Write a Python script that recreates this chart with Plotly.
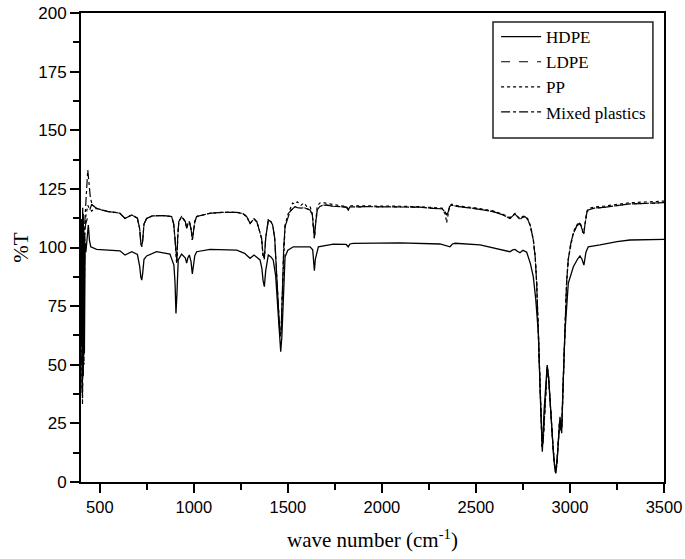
import plotly.graph_objects as go

# ---------------- data ----------------
hdpe_wavenumber = [
    400, 403, 406, 409, 412, 415, 418, 422, 426, 432,
    439, 445, 452, 483, 545, 607, 634, 650, 670, 700,
    712, 718, 723, 728, 735, 749, 802, 873, 894, 900,
    905, 910, 917, 935, 955, 962, 968, 976, 985, 992,
    998, 1005, 1015, 1086, 1228, 1270, 1299, 1320, 1352, 1362,
    1368, 1375, 1382, 1396, 1410, 1422, 1435, 1445, 1455, 1462,
    1468, 1475, 1485, 1500, 1529, 1618, 1632, 1637, 1641, 1646,
    1662, 1742, 1810, 1821, 1830, 1848, 2096, 2309, 2350, 2362,
    2375, 2389, 2522, 2628, 2681, 2695, 2708, 2722, 2734, 2750,
    2770, 2790, 2805, 2818, 2832, 2843, 2853, 2862, 2872, 2879,
    2887, 2902, 2914, 2924, 2934, 2947, 2952, 2956, 2962, 2973,
    2991, 3018, 3040, 3053, 3064, 3074, 3085, 3097, 3160, 3250,
    3319, 3420, 3500,
]
hdpe_t = [
    60, 112, 38, 117, 45, 108, 55, 102, 98, 104,
    109.6, 103, 100.3, 99.2, 98.9, 98.6, 96.8, 97.5, 98.2, 97,
    92, 87.5, 86.1, 89, 95, 96.4, 98.2, 97.2, 92.5, 85,
    71.9, 80, 94.7, 97.2, 95.5, 93.3, 95.5, 96.8, 94, 88.7,
    92, 96.5, 98.2, 99.2, 98.9, 97.5, 95.4, 96.8, 94.7, 91,
    86, 83.3, 90, 96.8, 96, 94.7, 88, 75, 60, 55.6,
    62, 80, 96.1, 98.8, 100.3, 100.3, 99, 94, 90.1, 95,
    100.3, 101.4, 101.3, 100.3, 101.5, 101.8, 102, 101.5, 100.6, 100.3,
    101.5, 101.8, 101.1, 99.2, 98.2, 99, 99.2, 98.3, 97.8, 98.8,
    98, 93, 87.5, 78, 63.4, 35, 12.9, 30, 45, 49.9,
    44, 25, 10, 3.7, 12, 27.8, 23, 20.8, 38, 63.4,
    84.7, 91.8, 95, 96.4, 95, 92.5, 98, 100.3, 101.1, 102.5,
    103.2, 103.4, 103.5,
]

upper_wavenumber = [
    400, 404, 408, 412, 416, 420, 425, 430, 436, 442,
    450, 457, 470, 483, 510, 545, 580, 607, 634, 650,
    670, 700, 712, 718, 723, 728, 735, 749, 780, 838,
    882, 893, 900, 906, 910, 914, 920, 935, 955, 962,
    968, 976, 985, 992, 998, 1005, 1015, 1050, 1086, 1150,
    1228, 1260, 1281, 1299, 1320, 1335, 1343, 1360, 1368, 1375,
    1382, 1396, 1410, 1419, 1430, 1440, 1450, 1458, 1464, 1470,
    1478, 1485, 1500, 1511, 1525, 1538, 1550, 1570, 1585, 1600,
    1618, 1630, 1637, 1641, 1645, 1656, 1670, 1688, 1706, 1740,
    1777, 1810, 1821, 1830, 1919, 2000, 2096, 2200, 2273, 2320,
    2338, 2344, 2352, 2360, 2371, 2400, 2486, 2550, 2592, 2640,
    2681, 2700, 2708, 2722, 2734, 2750, 2761, 2775, 2790, 2805,
    2815, 2823, 2832, 2840, 2847, 2852, 2858, 2865, 2872, 2879,
    2885, 2893, 2902, 2910, 2918, 2924, 2930, 2938, 2945, 2951,
    2957, 2963, 2973, 2982, 2991, 3005, 3018, 3035, 3050, 3060,
    3068, 3074, 3080, 3090, 3097, 3130, 3177, 3250, 3319, 3400,
    3500,
]
ldpe_t = [
    50, 110, 35, 113, 60, 108, 110, 112, 113, 115,
    117, 118.5, 117.3, 116.7, 116, 115.3, 115, 114.6, 112.4, 113,
    113.9, 112.5, 108, 102, 100.3, 103, 110, 112.4, 113.5, 113.6,
    113.2, 110, 104, 96, 94, 104, 111, 113.2, 111, 108.2,
    110, 111, 108, 103.2, 106, 111, 113.2, 114, 114.6, 115,
    115, 114.5, 113.2, 110.3, 112.2, 111, 108.9, 104, 97, 95.4,
    104, 111.7, 111, 109.6, 104, 90, 72, 62, 64, 80,
    100, 108.9, 113, 115.3, 116.5, 117.4, 117, 116.8, 117, 116.5,
    116, 114, 106, 103.9, 108, 116, 117.5, 118.1, 118.1, 117.6,
    117.4, 117.2, 116, 117.3, 117.4, 117.4, 117.4, 117.2, 116.7, 116.5,
    115, 113.9, 115, 117.5, 118.1, 117.5, 116.7, 116, 115.3, 114,
    112.4, 113.8, 114.3, 113, 112, 113, 113.2, 112, 109, 103.2,
    96, 84.7, 64, 45, 25, 15, 18, 30, 42, 49,
    46, 35, 25, 15, 7, 4, 7, 16, 26, 22,
    24, 40, 64, 85, 95, 102, 106, 109, 110.3, 109,
    106.5, 106, 110, 115, 116, 116.8, 117.1, 117.8, 118.6, 118.8,
    119.1,
]
pp_t = [
    40, 108, 33, 110, 50, 105, 113, 116, 118, 117,
    116, 115.5, 116.5, 116.7, 116, 115.3, 115, 114.6, 112.4, 113,
    113.9, 112.5, 108, 102, 100.3, 103, 110, 112.4, 113.5, 113.6,
    113.2, 110, 104, 95, 93, 104, 111, 113.2, 111, 108.2,
    110, 111, 108, 103.2, 106, 111, 113.2, 114, 114.6, 115,
    115, 114.5, 113.2, 110.3, 112.2, 111, 108.9, 104, 96, 95,
    104, 111.7, 111, 109.6, 104, 90, 72, 63, 65, 80,
    100, 109.5, 114, 116.5, 119, 118.5, 119.5, 118, 119, 117.5,
    117.5, 114.5, 106.5, 104, 108.5, 117.5, 119, 119.2, 118.8, 118.3,
    117.8, 117.6, 116.5, 117.8, 117.8, 117.6, 117.6, 117.4, 117, 116.8,
    114, 110.5, 114, 117.8, 118.5, 117.8, 117, 116.3, 115.6, 114.3,
    112.8, 114, 114.6, 113.3, 112.3, 113.3, 113.5, 112.3, 109.3, 103.5,
    96.5, 85, 64, 45, 25, 15, 18, 30, 42, 49,
    46, 35, 25, 15, 7, 4, 7, 16, 26, 22,
    24, 40, 64, 85, 95, 102, 106.5, 109.5, 110.8, 109.4,
    107, 106.5, 110.5, 115.5, 116.5, 117.3, 117.6, 118.3, 119.1, 119.4,
    119.8,
]
mixed_t = [
    60, 112, 40, 115, 70, 110, 118, 128, 133, 128,
    121, 119, 117.5, 116.7, 116, 115.3, 115, 114.6, 112.4, 113,
    113.9, 112.5, 108, 102, 100.3, 103, 110, 112.4, 113.5, 113.6,
    113.2, 110, 104, 96, 94, 104, 111, 113.2, 111, 108.2,
    110, 111, 108, 103.2, 106, 111, 113.2, 114, 114.6, 115,
    115, 114.5, 113.2, 110.3, 112.2, 111, 108.9, 104, 97, 95.4,
    104, 111.7, 111, 109.6, 104, 90, 72, 62, 64, 80,
    100, 108.9, 113, 115.3, 116.5, 117.4, 117, 116.8, 117, 116.5,
    116, 114, 106, 103.9, 108, 116, 117.5, 118.1, 118.1, 117.6,
    117.4, 117.2, 116, 117.3, 117.4, 117.4, 117.4, 117.2, 116.7, 116.5,
    115, 113.9, 115, 117.5, 118.1, 117.5, 116.7, 116, 115.3, 114,
    112.4, 113.8, 114.3, 113, 112, 113, 113.2, 112, 109, 103.2,
    96, 84.7, 64, 45, 25, 15, 18, 30, 42, 49,
    46, 35, 25, 15, 7, 4, 7, 16, 26, 22,
    24, 40, 64, 85, 95, 102, 106, 109, 110.3, 109,
    106.5, 106, 110, 115, 116, 116.8, 117.1, 117.8, 118.6, 118.8,
    119.1,
]

series_names = ["HDPE", "LDPE", "PP", "Mixed plastics"]
x_tickvals = [500, 1000, 1500, 2000, 2500, 3000, 3500]
y_tickvals = [0, 25, 50, 75, 100, 125, 150, 175, 200]

# ---------------- figure ----------------
fig = go.Figure()
fig.add_trace(go.Scatter(x=hdpe_wavenumber, y=hdpe_t, mode="lines", name=series_names[0],
                         line=dict(color="black", width=1.3, dash="solid")))
fig.add_trace(go.Scatter(x=upper_wavenumber, y=ldpe_t, mode="lines", name=series_names[1],
                         line=dict(color="black", width=1.2, dash="dash")))
fig.add_trace(go.Scatter(x=upper_wavenumber, y=pp_t, mode="lines", name=series_names[2],
                         line=dict(color="black", width=1.2, dash="dot")))
fig.add_trace(go.Scatter(x=upper_wavenumber, y=mixed_t, mode="lines", name=series_names[3],
                         line=dict(color="black", width=1.2, dash="dashdot")))

x_tick_font = dict(family="Liberation Sans, Arial, sans-serif", size=16.5, color="black")
y_tick_font = dict(family="Liberation Sans, Arial, sans-serif", size=17, color="black")
title_font = dict(family="Liberation Serif, Times New Roman, serif", size=21, color="black")

fig.update_layout(
    width=685, height=559,
    margin=dict(l=81, r=21, t=13, b=77),
    paper_bgcolor="white", plot_bgcolor="white",
    showlegend=True,
    legend=dict(x=0.712, y=0.987, xanchor="left", yanchor="top",
                bgcolor="rgba(0,0,0,0)", borderwidth=0, itemwidth=40,
                font=dict(family="Liberation Serif, Times New Roman, serif", size=17, color="black"),
                tracegroupgap=0),
    shapes=[dict(type="rect", xref="paper", yref="paper",
                 x0=0.7067, x1=0.981, y0=0.7335, y1=0.9808,
                 line=dict(color="#222", width=1.5), fillcolor="rgba(0,0,0,0)")],
)
fig.update_xaxes(
    range=[400, 3500], tickvals=x_tickvals, ticktext=[str(v) for v in x_tickvals],
    showgrid=False, zeroline=False, automargin=False, ticklabeloverflow="allow",
    showline=True, linecolor="black", linewidth=2, mirror=True,
    ticks="outside", ticklen=9, tickwidth=2, tickcolor="black",
    minor=dict(dtick=250, tick0=250, ticks="outside", ticklen=6, tickwidth=2, tickcolor="black"),
    tickfont=x_tick_font,
    title=dict(text="wave number (cm<sup>-1</sup>)", font=title_font, standoff=18),
)
fig.update_yaxes(
    range=[0, 200], tickvals=y_tickvals, ticktext=[str(v) for v in y_tickvals],
    showgrid=False, zeroline=False, automargin=False, ticklabeloverflow="allow",
    showline=True, linecolor="black", linewidth=2, mirror=True,
    ticks="outside", ticklen=9, tickwidth=2, tickcolor="black",
    minor=dict(dtick=12.5, tick0=0, ticks="outside", ticklen=6, tickwidth=2, tickcolor="black"),
    tickfont=y_tick_font,
    title=dict(text="%T", font=title_font, standoff=4),
)

# remove the page's default body margin so the figure sits at the window's corner
fig.write_html("out.html", config={"displayModeBar": False},
               post_script="document.body.style.margin='0';")
